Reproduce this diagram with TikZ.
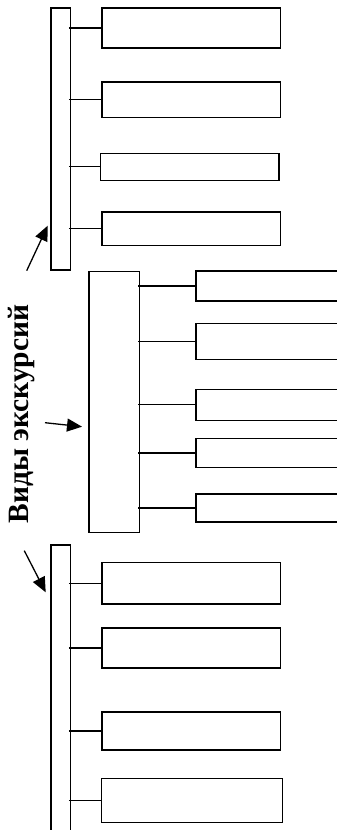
\documentclass[tikz,border=0pt]{standalone}
\usepackage{fontspec}
\setmainfont{Liberation Serif}
\usetikzlibrary{arrows.meta}
\begin{document}
\begin{tikzpicture}[x=1pt,y=-1pt,
  box/.style={draw,line width=1.2pt,inner sep=0pt,outer sep=0pt,anchor=north west},
  conn/.style={line width=1.2pt},
  arr/.style={line width=1.3pt,-{Triangle[length=15pt,width=13pt]}},
  title/.style={font=\bfseries\fontsize{29.5}{32}\selectfont,rotate=90,inner sep=0pt}]
\clip (0,0) rectangle (337,830);
\fill[white] (0,0) rectangle (337,830);
% top group
\node[box,minimum width=19.3pt,minimum height=262pt] (barA) at (51,8) {};
\node[box,minimum width=178.7pt,minimum height=40pt] (a1) at (102,8) {};
\node[box,minimum width=178.7pt,minimum height=35.7pt] (a2) at (102,82) {};
\node[box,minimum width=178.7pt,minimum height=27pt] (a3) at (100.3,153.3) {};
\node[box,minimum width=178.7pt,minimum height=33.7pt] (a4) at (102,212) {};
\foreach \n in {a1,a2,a3,a4}{\draw[conn] ([xshift=-1.5pt]barA.east |- \n.west) -- (\n.west);}
% middle group
\node[box,minimum width=50.7pt,minimum height=261pt] (mid) at (89,271.7) {};
\node[box,minimum width=160pt,minimum height=30pt] (b1) at (196,271) {};
\node[box,minimum width=160pt,minimum height=36pt] (b2) at (196,323.3) {};
\node[box,minimum width=160pt,minimum height=31pt] (b3) at (196,389.3) {};
\node[box,minimum width=160pt,minimum height=28.6pt] (b4) at (196,438.7) {};
\node[box,minimum width=160pt,minimum height=28pt] (b5) at (196,494) {};
\foreach \n in {b1,b2,b3,b4,b5}{\draw[conn] ([xshift=-1.5pt]mid.east |- \n.west) -- (\n.west);}
% bottom group
\node[box,minimum width=19.3pt,minimum height=300pt] (barC) at (51,545) {};
\node[box,minimum width=178.7pt,minimum height=41.7pt] (c1) at (102,562.3) {};
\node[box,minimum width=178.7pt,minimum height=40pt] (c2) at (102,628) {};
\node[box,minimum width=178.7pt,minimum height=38pt] (c3) at (102,712) {};
\node[box,minimum width=180.6pt,minimum height=44pt] (c4) at (101.7,778.7) {};
\foreach \n in {c1,c2,c3,c4}{\draw[conn] ([xshift=-1.5pt]barC.east |- \n.west) -- (\n.west);}
% title and arrows
\node[title] (t) at (21.7,414) {Виды экскурсий};
\coordinate (s1) at (26.7,270.7);
\coordinate (s2) at (45,422.7);
\coordinate (s3) at (24.3,550.7);
\draw[arr] (s1) -- (47.7,225.7);
\draw[arr] (s2) -- (82,426.7);
\draw[arr] (s3) -- (45.7,592.3);
\end{tikzpicture}
\end{document}
